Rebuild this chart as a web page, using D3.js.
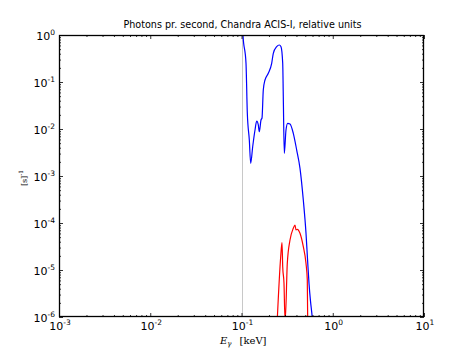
<!DOCTYPE html>
<html><head><meta charset="utf-8">
<script src="https://cdn.jsdelivr.net/npm/d3@7"></script>
<style>body{margin:0;background:#fff} svg{display:block}</style>
</head><body>
<script>
// ---- data ----
const blueE = [0.1025, 0.1038, 0.1120, 0.1158, 0.1218, 0.1261, 0.1326, 0.1406, 0.1468, 0.1528, 0.1567, 0.1636, 0.1678, 0.1733, 0.1809, 0.1966, 0.2142, 0.2231, 0.2430, 0.2596, 0.2710, 0.2829, 0.2871, 0.2944, 0.3073, 0.3208, 0.3400, 0.3695, 0.4026, 0.4376, 0.4757, 0.5090, 0.5300, 0.5500, 0.5700, 0.5950, 0.6100];
const blueV = [1.6, 1.0, 0.254, 0.0219, 0.00583, 0.00186, 0.00420, 0.00952, 0.0148, 0.01217, 0.00876, 0.01554, 0.01714, 0.0676, 0.1103, 0.1531, 0.250, 0.408, 0.564, 0.612, 0.564, 0.250, 0.0487, 0.00304, 0.00952, 0.01322, 0.01278, 0.00810, 0.00357, 0.001458, 0.000309, 6.13e-5, 1.6e-5, 5.0e-6, 2.2e-6, 1.0e-6, 5e-7];
const redE = [0.2467, 0.2689, 0.2779, 0.2829, 0.2922, 0.2997, 0.3020, 0.3176, 0.3400, 0.3695, 0.3857, 0.3956, 0.4088, 0.4376, 0.4757, 0.5090, 0.5260, 0.5313];
const redV = [9e-7, 1.92e-5, 3.81e-5, 1.175e-5, 5.21e-6, 9e-7, 9e-7, 1.389e-5, 4.35e-5, 7.71e-5, 9.07e-5, 7.10e-5, 7.35e-5, 6.04e-5, 3.13e-5, 1.389e-5, 6.13e-6, 9e-7];
const markerE = [0.1];
const xTickExps = [-3, -2, -1, 0, 1];
const yTickExps = [0, -1, -2, -3, -4, -5, -6];
const titleText = "Photons pr. second, Chandra ACIS-I, relative units";

// ---- layout ----
const W = 471, H = 353;
const L = 59, R = 424, T = 35, B = 317;
const svg = d3.select("body").append("svg").attr("width", W).attr("height", H);
const x = d3.scaleLog().domain([1e-3, 1e1]).range([L, R]);
const y = d3.scaleLog().domain([1e-6, 1]).range([B, T]);

svg.append("defs").append("clipPath").attr("id", "clip")
  .append("rect").attr("x", L).attr("y", T).attr("width", R - L).attr("height", B - T);

const plot = svg.append("g").attr("clip-path", "url(#clip)");

// vertical reference line
plot.selectAll("line.ref").data(markerE).enter().append("line")
  .attr("x1", d => Math.round(x(d)) + 0.5).attr("x2", d => Math.round(x(d)) + 0.5)
  .attr("y1", T).attr("y2", B).attr("stroke", "#c8c8c8").attr("stroke-width", 1);

const line = d3.line().x(d => x(d[0])).y(d => y(d[1])).curve(d3.curveMonotoneX);
plot.append("path").datum(blueE.map((e, i) => [e, blueV[i]]))
  .attr("d", line).attr("fill", "none").attr("stroke", "#0000ff").attr("stroke-width", 1.2);
plot.append("path").datum(redE.map((e, i) => [e, redV[i]]))
  .attr("d", line).attr("fill", "none").attr("stroke", "#ff0000").attr("stroke-width", 1.2);

// ---- ticks via d3 axes (inward) ----
const xMajor = xTickExps.map(e => Math.pow(10, e));
const yMajor = yTickExps.map(e => Math.pow(10, e));
const isMajor = v => Math.abs(Math.log10(v) - Math.round(Math.log10(v))) < 1e-9;
const xMinor = x.ticks().filter(v => !isMajor(v));
const yMinor = y.ticks().filter(v => !isMajor(v));

function addAxis(gen, transform, vals, size) {
  const g = svg.append("g").attr("transform", transform)
    .call(gen.tickValues(vals).tickSize(size).tickFormat(""));
  g.select(".domain").remove();
  g.selectAll("line").attr("stroke", "#000").attr("stroke-width", 0.8);
}
addAxis(d3.axisBottom(x), `translate(0,${B})`, xMajor, -4);
addAxis(d3.axisBottom(x), `translate(0,${B})`, xMinor, -2);
addAxis(d3.axisTop(x), `translate(0,${T})`, xMajor, -4);
addAxis(d3.axisTop(x), `translate(0,${T})`, xMinor, -2);
addAxis(d3.axisLeft(y), `translate(${L},0)`, yMajor, -4);
addAxis(d3.axisLeft(y), `translate(${L},0)`, yMinor, -2);
addAxis(d3.axisRight(y), `translate(${R},0)`, yMajor, -4);
addAxis(d3.axisRight(y), `translate(${R},0)`, yMinor, -2);

// frame
svg.append("rect").attr("x", L + 0.5).attr("y", T + 0.5).attr("width", R - L - 1).attr("height", B - T - 1)
  .attr("fill", "none").attr("stroke", "#000").attr("stroke-width", 1.3);

// tick labels
const font = "DejaVu Sans";
function powLabel(sel) {
  sel.append("tspan").text("10");
  sel.append("tspan").attr("dy", -5).attr("font-size", 7.5).text(d => String(d));
}
svg.append("g").selectAll("text").data(xTickExps).enter().append("text")
  .attr("x", d => x(Math.pow(10, d)) + 1).attr("y", 330)
  .attr("text-anchor", "middle").attr("font-family", font).attr("font-size", 11).attr("fill", "#000")
  .call(powLabel);
svg.append("g").selectAll("text").data(yTickExps).enter().append("text")
  .attr("x", 55).attr("y", d => y(Math.pow(10, d)) + 5)
  .attr("text-anchor", "end").attr("font-family", font).attr("font-size", 11).attr("fill", "#000")
  .call(powLabel);

// title
svg.append("text").attr("x", (L + R) / 2 + 1).attr("y", 28).attr("text-anchor", "middle")
  .attr("font-family", font).attr("font-size", 9.6).attr("fill", "#000").text(titleText);

// x label
const xl = svg.append("text").attr("x", 220).attr("y", 344)
  .attr("font-family", "DejaVu Serif").attr("font-size", 10).attr("fill", "#000");
xl.append("tspan").attr("font-style", "italic").text("E");
xl.append("tspan").attr("dy", 2).attr("font-size", 7).attr("font-style", "italic").text("γ");
xl.append("tspan").attr("dy", -2).attr("dx", 8).text("[keV]");

// y label
const yl = svg.append("text").attr("transform", "translate(27,178) rotate(-90)")
  .attr("text-anchor", "middle").attr("font-family", "DejaVu Serif").attr("font-size", 8).attr("fill", "#000");
yl.append("tspan").text("[s]");
yl.append("tspan").attr("dy", -4).attr("font-size", 6).text("-1");
</script>
</body></html>
